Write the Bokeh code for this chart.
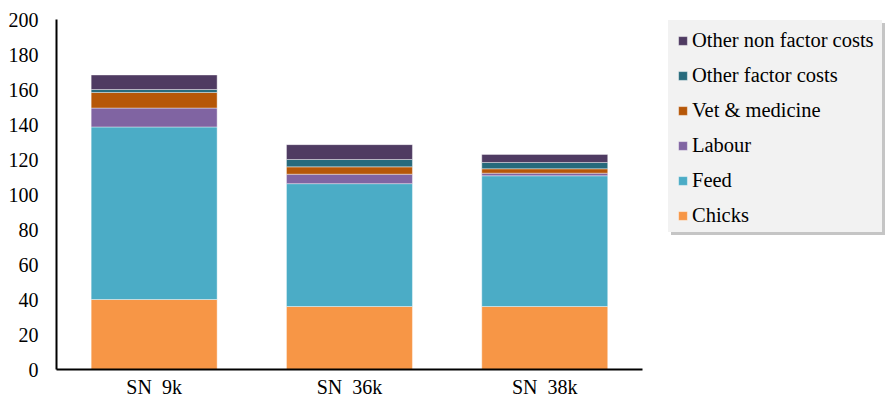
from bokeh.plotting import figure
from bokeh.models import Legend, LegendItem, FixedTicker, ColumnDataSource, Range1d
from bokeh.embed import file_html
from bokeh.resources import INLINE

categories = ["SN\u00a0\u00a09k", "SN\u00a0\u00a036k", "SN\u00a0\u00a038k"]
series = ["Chicks", "Feed", "Labour", "Vet & medicine", "Other factor costs", "Other non factor costs"]
chicks = [40.0, 36.0, 36.0]
feed = [98.6, 70.2, 74.7]
labour = [10.8, 5.4, 1.5]
vet = [8.9, 4.2, 2.5]
other_factor = [1.7, 4.2, 3.6]
other_non_factor = [8.3, 8.5, 4.6]
y_ticks = [0, 20, 40, 60, 80, 100, 120, 140, 160, 180, 200]

colors = ["#F79646", "#4BACC6", "#8064A2", "#B65708", "#276A7C", "#4F3B62"]
keys = ["chicks", "feed", "labour", "vet", "of", "onf"]
FONT = "Liberation Serif"

xpos = [i + 0.5 for i in range(len(categories))]
source = ColumnDataSource(data=dict(x=xpos, chicks=chicks, feed=feed, labour=labour,
                                    vet=vet, of=other_factor, onf=other_non_factor))

# frame spans 56..885 px; each category slot ~195.3 px wide
p = figure(x_range=Range1d(0, 829 / 195.3), y_range=Range1d(0, 200), width=885, height=402,
           output_backend="svg", toolbar_location=None,
           min_border_left=56, min_border_right=0, min_border_top=19, min_border_bottom=33)

renderers = p.vbar_stack(keys, x="x", width=0.645, source=source, color=colors,
                         line_color="white", line_alpha=0.5, line_width=0.8)
# invisible renderer used only for the legend background panels
blank = p.vbar(x=[], top=[], width=0.5, fill_alpha=0, line_alpha=0)

p.outline_line_color = None
p.xgrid.grid_line_color = None
p.ygrid.grid_line_color = None

for ax in (p.xaxis, p.yaxis):
    ax.axis_line_color = "black"
    ax.axis_line_width = 2
    ax.major_tick_line_color = None
    ax.minor_tick_line_color = None
    ax.major_tick_out = 0
    ax.major_tick_in = 0
    ax.minor_tick_out = 0
    ax.minor_tick_in = 0
    ax.major_label_text_font = FONT
    ax.major_label_text_font_size = "20px"
    ax.major_label_text_color = "black"

p.yaxis.ticker = FixedTicker(ticks=y_ticks)
p.yaxis.major_label_standoff = 18
p.xaxis.ticker = FixedTicker(ticks=xpos)
p.xaxis.major_label_overrides = {x: c for x, c in zip(xpos, categories)}
p.xaxis.bounds = (0, len(categories))
p.xaxis.major_label_standoff = 6


def panel(loc, color, alpha):
    lg = Legend(items=[LegendItem(label=" ", renderers=[blank])], location=loc)
    lg.border_line_color = None
    lg.background_fill_color = color
    lg.background_fill_alpha = alpha
    lg.margin = 0
    lg.padding = 0
    lg.glyph_width = 1
    lg.glyph_height = 1
    lg.label_standoff = 0
    lg.label_width = 213
    lg.label_height = 212
    lg.label_text_font_size = "10px"
    return lg


shadow = panel((615, 134), "#7F7F7F", 0.45)
box = panel((612, 137), "#F2F2F2", 1.0)

items = [LegendItem(label=series[i], renderers=[renderers[i]]) for i in reversed(range(6))]
legend = Legend(items=items, location=(621, 142))
legend.border_line_color = None
legend.background_fill_alpha = 0
legend.label_text_font = FONT
legend.label_text_color = "black"
legend.label_text_font_size = "20.5px"
legend.glyph_width = 11
legend.glyph_height = 11
legend.margin = 0
legend.padding = 0
legend.label_standoff = 4
legend.label_height = 24
legend.spacing = 11

p.add_layout(shadow, "center")
p.add_layout(box, "center")
p.add_layout(legend, "center")

open("out.html", "w").write(file_html(p, INLINE))
